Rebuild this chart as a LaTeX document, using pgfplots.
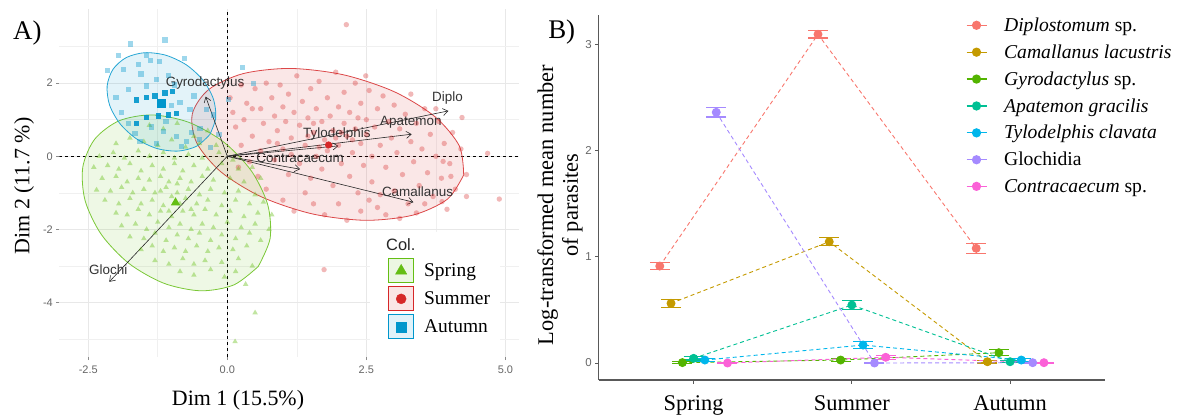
\documentclass[border=0pt]{standalone}
\usepackage{fontspec}
\setmainfont{Liberation Serif}
\setsansfont{Liberation Sans}
\usepackage{pgfplots}
\pgfplotsset{compat=1.18}
\usetikzlibrary{arrows.meta}
\definecolor{sprc}{RGB}{100,190,20}
\definecolor{sumc}{RGB}{214,39,40}
\definecolor{autc}{RGB}{0,150,204}
\definecolor{c1}{HTML}{F8766D}
\definecolor{c2}{HTML}{C49A00}
\definecolor{c3}{HTML}{53B400}
\definecolor{c4}{HTML}{00C094}
\definecolor{c5}{HTML}{00B6EB}
\definecolor{c6}{HTML}{A58AFF}
\definecolor{c7}{HTML}{FB61D7}
\begin{document}
\begin{tikzpicture}
\useasboundingbox (0bp,0bp) rectangle (1189bp,417bp);
% ---------------- Panel A ----------------
\begin{axis}[
  at={(59.3bp,60bp)}, anchor=south west, scale only axis,
  width=460bp, height=347.7bp,
  xmin=-3.02, xmax=5.25, ymin=-5.49, ymax=4.02,
  axis line style={draw=none},
  xtick={-2.5,0,2.5,5}, xticklabels={-2.5,0.0,2.5,5.0},
  ytick={-4,-2,0,2}, yticklabels={-4,-2,0,2},
  minor xtick={-1.25,1.25,3.75}, minor ytick={-5,-3,-1,1,3},
  grid=both,
  major grid style={line width=0.9bp, color=black!9},
  minor grid style={line width=0.6bp, color=black!6},
  tick align=outside, major tick length=3bp, minor tick length=0pt,
  xtick pos=bottom, ytick pos=left,
  tick style={color=black!45, line width=0.6bp},
  ticklabel style={font=\fontsize{11}{12}\sffamily, text=black!60},
  xticklabel style={yshift=-2bp},
  legend style={at={(0.7080,0.2900)}, anchor=north west, draw=none, fill=none,
    font=\fontsize{19.5}{21}\selectfont, row sep=3bp,
    /tikz/every odd column/.append style={column sep=8bp}},
  legend cell align=left,
]
\addlegendimage{legend image code/.code={\draw[draw=sprc, fill=sprc!12, line width=1bp] (0bp,-12bp) rectangle (25bp,12bp); \path plot[mark=triangle*, mark size=6.5bp, mark options={fill=sprc, draw=sprc}] coordinates {(12.5bp,0bp)};}}
\addlegendentry{Spring}
\addlegendimage{legend image code/.code={\draw[draw=sumc, fill=sumc!12, line width=1bp] (0bp,-12bp) rectangle (25bp,12bp); \path plot[mark=*, mark size=5bp, mark options={fill=sumc, draw=sumc}] coordinates {(12.5bp,0bp)};}}
\addlegendentry{Summer}
\addlegendimage{legend image code/.code={\draw[draw=autc, fill=autc!12, line width=1bp] (0bp,-12bp) rectangle (25bp,12bp); \path plot[mark=square*, mark size=5bp, mark options={fill=autc, draw=autc}] coordinates {(12.5bp,0bp)};}}
\addlegendentry{Autumn}

\fill[white] (axis cs:2.567,-2.067) rectangle (axis cs:4.90,-5.49);

% zero lines
\addplot[black, line width=0.6bp, dash pattern=on 3bp off 3bp] coordinates {(-3.02,0) (5.25,0)};
\addplot[black, line width=0.6bp, dash pattern=on 3bp off 3bp] coordinates {(0,-5.49) (0,4.02)};

% ellipses
\addplot[draw=sumc!85, line width=0.8bp, fill=sumc, fill opacity=0.11, smooth] coordinates {
(4.250,-0.510) (3.957,-1.174) (3.336,-1.610) (2.484,-1.751) (1.529,-1.576) (0.617,-1.112)
(-0.113,-0.429) (-0.550,0.369) (-0.628,1.161) (-0.334,1.825) (0.286,2.261) (1.138,2.402)
(2.093,2.227) (3.005,1.763) (3.735,1.080) (4.172,0.281) (4.250,-0.510)};
\addplot[draw=sprc!85, line width=0.8bp, fill=sprc, fill opacity=0.11, smooth] coordinates {
(0.557,-3.014) (0.119,-3.518) (-0.476,-3.679) (-1.137,-3.475) (-1.764,-2.936) (-2.262,-2.144)
(-2.555,-1.218) (-2.598,-0.302) (-2.384,0.466) (-1.947,0.969) (-1.352,1.131) (-0.690,0.927)
(-0.063,0.387) (0.435,-0.405) (0.728,-1.330) (0.770,-2.246) (0.557,-3.014)};
\addplot[draw=autc!85, line width=0.8bp, fill=autc, fill opacity=0.11, smooth] coordinates {
(-0.312,0.597) (-0.549,0.277) (-0.883,0.142) (-1.263,0.212) (-1.631,0.475) (-1.930,0.893)
(-2.116,1.401) (-2.160,1.923) (-2.055,2.378) (-1.818,2.698) (-1.483,2.833) (-1.104,2.763)
(-0.736,2.500) (-0.437,2.082) (-0.251,1.574) (-0.207,1.052) (-0.312,0.597)};

% Summer points
\addplot[only marks, color=sumc, mark=*, mark size=2.7bp, mark options={draw opacity=0, fill=sumc, fill opacity=0.33}] coordinates {
(0.05,1.6) (0.1,1.2) (0.15,0.8) (0.3,1.0) (0.35,1.45) (0.45,0.55) (0.5,1.85) (0.6,1.3) (0.65,0.9) (0.7,2.0)
(0.75,0.4) (0.8,1.6) (0.85,1.1) (0.9,0.7) (0.95,1.95) (1.0,1.35) (1.0,0.2) (1.05,0.95) (1.1,1.7) (1.15,0.5)
(1.2,1.2) (1.25,2.2) (1.3,0.85) (1.3,-0.2) (1.35,1.5) (1.4,0.3) (1.45,1.05) (1.5,1.85) (1.5,-0.6) (1.55,0.65)
(1.6,1.3) (1.6,0.0) (1.65,2.05) (1.7,0.95) (1.7,-0.35) (1.75,0.45) (1.8,1.6) (1.8,0.15) (1.85,1.1) (1.9,-0.8)
(1.9,0.7) (1.95,2.3) (2.0,1.35) (2.0,0.3) (2.05,-0.2) (2.1,0.9) (2.1,1.75) (2.15,0.55) (2.2,-0.55) (2.2,1.2)
(2.25,0.1) (2.3,2.0) (2.3,0.75) (2.35,-1.0) (2.4,1.45) (2.4,0.35) (2.45,-0.25) (2.5,1.0) (2.5,0.6) (2.55,1.8)
(2.6,0.0) (2.6,-0.7) (2.65,0.8) (2.7,1.3) (2.7,-1.4) (2.75,0.3) (2.8,1.65) (2.85,-0.3) (2.9,0.95) (2.95,0.5)
(3.0,-0.95) (3.0,1.4) (3.05,0.1) (3.1,0.75) (3.15,-0.5) (3.2,1.15) (3.25,-1.3) (3.3,0.4) (3.35,-0.15) (3.4,0.9)
(3.45,-0.8) (3.5,0.2) (3.55,1.3) (3.6,-0.45) (3.65,0.6) (3.7,-1.1) (3.75,0.0) (3.8,0.95) (3.85,-0.6) (3.9,0.35)
(3.95,-1.45) (4.0,-0.2) (4.05,0.65) (4.1,-0.9) (4.2,0.2) (4.22,1.06) (3.88,-0.14) (4.02,-0.55) (3.86,-1.24) (4.68,0.08)
(4.89,-1.17) (1.74,-3.1) (2.14,3.6) (2.49,2.2) (0.2,-0.3) (0.4,-0.15) (0.55,-0.55) (0.7,-0.9) (0.85,-0.1) (1.0,-1.2)
(1.1,-0.5) (1.2,-1.5) (1.4,-1.0) (1.55,-1.3) (1.75,-1.6) (2.0,-1.3) (2.15,-1.75) (2.4,-1.5) (2.55,-1.2) (2.85,-1.6)
(3.1,-1.7) (3.4,-1.55) (1.95,0.5) (1.85,0.3) (2.05,0.65) (1.65,0.25) (2.25,0.45) (1.55,0.9) (2.35,1.05) (1.45,0.55)
(0.25,0.3) (0.6,0.15) (0.9,0.35) (1.15,0.05) (2.75,-1.05) (3.55,-1.3) (0.45,1.3) (0.25,1.95) (3.3,1.7) (3.75,1.3)
(4.3,-0.5) (4.3,-1.1)};

% Spring points
\addplot[only marks, color=sprc, mark=triangle*, mark size=3.2bp, mark options={draw opacity=0, fill=sprc, fill opacity=0.4}] coordinates {
(-1.4,0.85) (-1.15,0.75) (-0.9,0.9) (-0.6,0.55) (-0.35,0.7)
(-2.0,0.35) (-1.75,0.5) (-1.5,0.4) (-1.25,0.3) (-1.0,0.45) (-0.75,0.25) (-0.5,0.35) (-0.2,0.3)
(-2.3,0.0) (-2.05,0.1) (-1.85,-0.05) (-1.6,0.15) (-1.4,0.0) (-1.15,0.1) (-0.95,-0.05) (-0.7,0.05) (-0.45,-0.05) (-0.15,0.1) (0.1,-0.1)
(-2.4,-0.3) (-2.15,-0.25) (-1.95,-0.35) (-1.75,-0.2) (-1.55,-0.4) (-1.35,-0.25) (-1.15,-0.35) (-0.95,-0.2) (-0.8,-0.4) (-0.6,-0.25) (-0.35,-0.35) (-0.1,-0.2) (0.2,-0.35) (0.45,-0.3)
(-2.25,-0.6) (-2.0,-0.55) (-1.8,-0.7) (-1.6,-0.6) (-1.4,-0.65) (-1.2,-0.55) (-1.05,-0.7) (-0.85,-0.6) (-0.65,-0.7) (-0.45,-0.55) (-0.25,-0.65) (0.05,-0.6) (0.3,-0.7) (0.6,-0.6)
(-2.35,-0.92) (-2.1,-0.95) (-1.9,-0.85) (-1.7,-1.0) (-1.5,-0.9) (-1.3,-1.0) (-1.1,-0.85) (-0.9,-1.0) (-0.7,-0.9) (-0.5,-1.05) (-0.3,-0.9) (-0.05,-1.0) (0.2,-0.95) (0.5,-1.05)
(-2.2,-1.2) (-1.95,-1.3) (-1.75,-1.15) (-1.55,-1.3) (-1.35,-1.2) (-1.15,-1.35) (-0.75,-1.15) (-0.55,-1.3) (-0.35,-1.2) (-0.1,-1.35) (0.15,-1.2) (0.4,-1.3) (0.65,-1.25)
(-2.0,-1.55) (-1.8,-1.6) (-1.6,-1.45) (-1.4,-1.6) (-1.2,-1.5) (-1.0,-1.65) (-0.8,-1.5) (-0.6,-1.6) (-0.4,-1.45) (-0.2,-1.6) (0.05,-1.5) (0.3,-1.65) (0.55,-1.55) (0.8,-1.6)
(-1.9,-1.9) (-1.65,-1.85) (-1.45,-2.0) (-1.25,-1.8) (-1.05,-1.95) (-0.85,-1.85) (-0.65,-2.0) (-0.45,-1.85) (-0.25,-1.95) (0.0,-1.8) (0.25,-1.95) (0.5,-1.85) (0.75,-2.0)
(-1.75,-2.2) (-1.5,-2.25) (-1.3,-2.1) (-1.1,-2.3) (-0.9,-2.15) (-0.7,-2.25) (-0.5,-2.1) (-0.3,-2.3) (-0.1,-2.15) (0.15,-2.25) (0.4,-2.1) (0.6,-2.3)
(-1.55,-2.55) (-1.35,-2.45) (-1.15,-2.6) (-0.95,-2.5) (-0.75,-2.6) (-0.55,-2.45) (-0.35,-2.6) (-0.15,-2.5) (0.1,-2.55) (0.35,-2.45)
(-1.3,-2.85) (-1.05,-2.95) (-0.8,-2.8) (-0.6,-2.95) (-0.4,-2.85) (-0.1,-2.9) (0.2,-2.8) (0.45,-3.0)
(-0.85,-3.15) (-0.6,-3.25) (-0.3,-3.1) (-0.05,-3.3) (0.15,-3.15) (0.33,-3.5)
(0.5,-4.28) (0.14,-5.07) (-1.0,-1.1) (-0.85,-1.3) (-1.2,-0.95) (-0.65,-1.45) (-1.05,-1.5) (-0.9,-0.75)};

% Autumn points
\addplot[only marks, color=autc, mark=square*, mark size=2.6bp, mark options={draw opacity=0, fill=autc, fill opacity=0.38}] coordinates {
(-1.737,3.07) (-1.12,3.18) (-2.15,2.34) (-1.87,2.38) (-1.6,2.52) (-1.38,2.62) (-1.22,2.59) (-0.77,2.68) (0.28,2.43) (0.47,2.0)
(-1.78,1.83) (-1.45,1.92) (-1.27,2.09) (-1.78,0.9) (-1.66,0.63) (-1.36,0.8) (-1.15,0.68) (-1.0,1.38) (-0.85,1.47) (-0.91,0.54)
(-0.73,0.4) (-0.82,0.27) (-0.64,0.65) (-0.49,0.77) (-0.37,1.27) (-0.25,1.13) (-0.67,1.27) (0.02,1.56) (-1.57,0.4) (-1.27,0.36)
(-1.05,2.2) (-0.6,1.65) (-0.5,0.45) (-1.9,1.2) (-2.0,1.6) (-1.55,2.25) (-0.95,1.95) (-0.15,0.6) (-1.1,0.95) (-0.3,0.25)
(-1.95,2.75) (-1.45,2.75)};
\addplot[only marks, color=autc, mark=square*, mark size=2.6bp, mark options={draw opacity=0, fill=autc, fill opacity=0.9}] coordinates {
(-1.63,1.54) (-1.45,1.6) (-1.3,1.65) (-1.12,1.73) (-0.98,1.78) (-1.45,1.07) (-1.24,1.1) (-1.06,1.13) (-0.91,1.18) (-1.63,0.89)};

% group centres
\addplot[only marks, color=sprc, mark=triangle*, mark size=5.5bp, mark options={draw opacity=0, fill=sprc}] coordinates {(-0.93,-1.27)};
\addplot[only marks, color=sumc, mark=*, mark size=3.6bp, mark options={draw opacity=0, fill=sumc}] coordinates {(1.82,0.31)};
\addplot[only marks, color=autc, mark=square*, mark size=4.5bp, mark options={draw opacity=0, fill=autc}] coordinates {(-1.19,1.43)};

% variable arrows
\pgfplotsset{arr/.style={black!85, line width=0.6bp, -{Straight Barb[length=5bp,width=7bp]}}}
\addplot[arr] coordinates {(0,0) (-0.389,1.633)};
\addplot[arr] coordinates {(0,0) (3.975,1.241)};
\addplot[arr] coordinates {(0,0) (3.316,0.604)};
\addplot[arr] coordinates {(0,0) (1.997,0.284)};
\addplot[arr] coordinates {(0,0) (1.308,-0.353)};
\addplot[arr] coordinates {(0,0) (3.346,-1.256)};
\addplot[arr] coordinates {(0,0) (-2.122,-3.434)};
\begin{scope}[every node/.style={font=\fontsize{13.5}{15}\sffamily, text=black!80, inner sep=0pt}]
\node at (axis cs:-0.40,2.00) {Gyrodactylus};
\node at (axis cs:3.96,1.59) {Diplo};
\node at (axis cs:3.30,0.93) {Apatemon};
\node at (axis cs:1.97,0.60) {Tylodelphis};
\node at (axis cs:1.31,-0.05) {Contracaecum};
\node at (axis cs:3.42,-0.965) {Camallanus};
\node at (axis cs:-2.14,-3.115) {Glochi};
\end{scope}
\end{axis}
\node[font=\fontsize{16.5}{18}\sffamily, text=black!85, anchor=west, inner sep=0pt] at (386bp,172bp) {Col.};
\node[font=\fontsize{27}{30}\selectfont] at (27.3bp,383.7bp) {A)};
\node[font=\fontsize{22}{24}\selectfont, rotate=90] at (24bp,231bp) {Dim 2 (11.7 \%)};
\node[font=\fontsize{22}{24}\selectfont] at (238bp,17bp) {Dim 1 (15.5\%)};

% ---------------- Panel B ----------------
\begin{axis}[
  at={(598.7bp,37bp)}, anchor=south west, scale only axis,
  width=506.3bp, height=365bp,
  xmin=0.4, xmax=3.6, ymin=-0.16, ymax=3.277,
  axis x line*=bottom, axis y line*=left,
  axis line style={line width=1.1bp, color=black!65, -},
  tick align=outside, major tick length=3.5bp,
  tick style={color=black!65, line width=0.8bp},
  xtick={1,2,3}, xticklabels={Spring,Summer,Autumn},
  ytick={0,1,2,3}, yticklabels={0,1,2,3},
  xticklabel style={font=\fontsize{22.5}{24}\selectfont, text=black, yshift=-9bp},
  yticklabel style={font=\fontsize{11.5}{13}\sffamily, text=black!60},
  legend style={at={(0.7190,1.004)}, anchor=north west, draw=none, fill=none,
    font=\fontsize{19.7}{22}\selectfont, row sep=7.8bp,
    /tikz/every odd column/.append style={column sep=15bp}},
  legend cell align=left,
  legend image code/.code={\draw[mark repeat=2,mark phase=2,#1, solid, line width=1.2bp] plot coordinates {(0bp,0bp) (10bp,0bp) (20bp,0bp)};},
  every axis plot/.append style={line width=0.9bp, dash pattern=on 4bp off 3bp, mark=*, mark size=4bp, mark options={solid},
    error bars/y dir=both, error bars/y explicit, error bars/error mark=-,
    error bars/error bar style={solid, line width=1.2bp}},
  eb/.style={error bars/error mark options={solid, rotate=90, line width=1.2bp, mark size=10bp, #1}},
]
\addplot[color=c1, eb=c1] coordinates {(0.786,0.913) +- (0,0.035) (1.786,3.095) +- (0,0.035) (2.786,1.08) +- (0,0.047)};
\addlegendentry{\textit{Diplostomum} sp.}
\addplot[color=c2, eb=c2] coordinates {(0.857,0.562) +- (0,0.038) (1.857,1.142) +- (0,0.039) (2.857,0.012) +- (0,0.012)};
\addlegendentry{\textit{Camallanus lacustris}}
\addplot[color=c3, eb=c3] coordinates {(0.929,0.004) +- (0,0.008) (1.929,0.028) +- (0,0.012) (2.929,0.097) +- (0,0.028)};
\addlegendentry{\textit{Gyrodactylus} sp.}
\addplot[color=c4, eb=c4] coordinates {(1.0,0.044) +- (0,0.015) (2.0,0.546) +- (0,0.042) (3.0,0.012) +- (0,0.01)};
\addlegendentry{\textit{Apatemon gracilis}}
\addplot[color=c5, eb=c5] coordinates {(1.071,0.028) +- (0,0.012) (2.071,0.169) +- (0,0.03) (3.071,0.028) +- (0,0.012)};
\addlegendentry{\textit{Tylodelphis clavata}}
\addplot[color=c6, eb=c6] coordinates {(1.143,2.361) +- (0,0.045) (2.143,0.0) +- (0,0.005) (3.143,0.003) +- (0,0.005)};
\addlegendentry{Glochidia}
\addplot[color=c7, eb=c7] coordinates {(1.214,0.0) +- (0,0.005) (2.214,0.054) +- (0,0.018) (3.214,0.003) +- (0,0.005)};
\addlegendentry{\textit{Contracaecum} sp.}
\end{axis}
\node[font=\fontsize{27}{30}\selectfont] at (561.7bp,384.5bp) {B)};
\node[font=\fontsize{22.5}{25}\selectfont, rotate=90, align=center] at (560bp,212bp) {Log-transformed mean number\\of parasites};
\end{tikzpicture}
\end{document}
